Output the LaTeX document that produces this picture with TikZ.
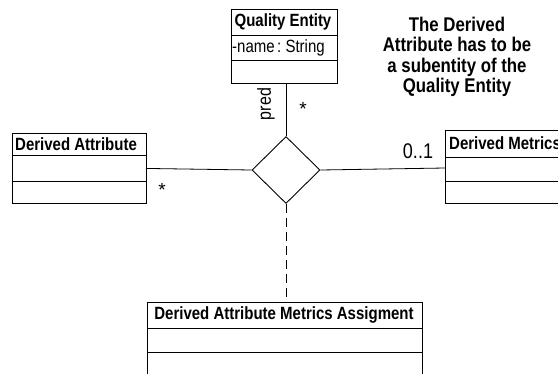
\documentclass[tikz,border=0pt]{standalone}
\usepackage{fontspec}
\setmainfont{Liberation Sans}
\usetikzlibrary{shapes.geometric}
% text in this drawing is set slightly tall
\newcommand\talltext[1]{\scalebox{1}[1.18]{#1}}
\tikzset{
  classbox/.style={draw, line width=0.9pt, inner sep=0pt, anchor=north west},
  classtitle/.style={font=\bfseries\fontsize{15}{17}\selectfont, inner sep=0pt, anchor=center},
  sepline/.style={line width=0.9pt},
  assoc/.style={line width=0.8pt},
  mult/.style={font=\fontsize{16}{18}\selectfont, inner sep=0pt},
}
\begin{document}
\begin{tikzpicture}[x=1pt, y=-1pt]
\useasboundingbox (0,0) rectangle (558,373);
\clip (0,0) rectangle (558,373);

% Quality Entity
\node[classbox, minimum width=106pt, minimum height=74pt] (qe) at (231,9) {};
\draw[sepline] (231,35) -- (337,35);
\draw[sepline] (231,60) -- (337,60);
\node[classtitle] (qet) at (283,22) {\talltext{Quality Entity}};
\node[font=\fontsize{15}{17}\selectfont, inner sep=0pt, anchor=west] (qea) at (232,47.5) {\talltext{-name\,:\ String}};

% Derived Attribute
\node[classbox, minimum width=134pt, minimum height=70pt] (da) at (12,133) {};
\draw[sepline] (12,155) -- (146,155);
\draw[sepline] (12,181) -- (146,181);
\node[classtitle, anchor=west] (dat) at (15,144) {\talltext{Derived Attribute}};

% Derived Metrics (runs past the right edge)
\node[classbox, minimum width=130pt, minimum height=73pt] (dm) at (445,130) {};
\draw[sepline] (445,157) -- (575,157);
\draw[sepline] (445,181) -- (575,181);
\node[classtitle, anchor=west] (dmt) at (449,143) {\talltext{Derived Metrics}};

% Derived Attribute Metrics Assigment (runs past the bottom edge)
\node[classbox, minimum width=275pt, minimum height=80pt] (dama) at (147,302) {};
\draw[sepline] (147,328) -- (422,328);
\draw[sepline] (147,352) -- (422,352);
\node[classtitle] (damat) at (284,315) {\talltext{Derived Attribute Metrics Assigment}};

% association diamond
\node[draw, diamond, line width=0.9pt, inner sep=0pt, minimum width=68pt, minimum height=67pt] (d) at (286,170) {};

% connectors
\draw[assoc] (qe.south -| d.north) -- (d.north);
\draw[assoc] (da.east) -- (d.west);
\draw[assoc] (d.east) -- (dm.west |- 0,168);
\draw[assoc, dashed, dash pattern=on 9pt off 5pt] (d.south) -- (d.south |- dama.north);

% role and multiplicity labels
\node[mult, rotate=90] (pred) at (266,104) {\talltext{pred}};
\node[mult, font=\fontsize{19}{20}\selectfont] (mqe) at (303,109) {*};
\node[mult, font=\fontsize{19}{20}\selectfont] (mda) at (162,190) {*};
\node[mult, font=\fontsize{18}{20}\selectfont] (mdm) at (418,151) {\talltext{0..1}};

% note
\node[font=\bfseries\fontsize{16.8}{20.3}\selectfont, align=center, inner sep=0pt] (note) at (457,57)
  {\talltext{The Derived}\\\talltext{Attribute has to be}\\\talltext{a subentity of the}\\\talltext{Quality Entity}};
\end{tikzpicture}
\end{document}
